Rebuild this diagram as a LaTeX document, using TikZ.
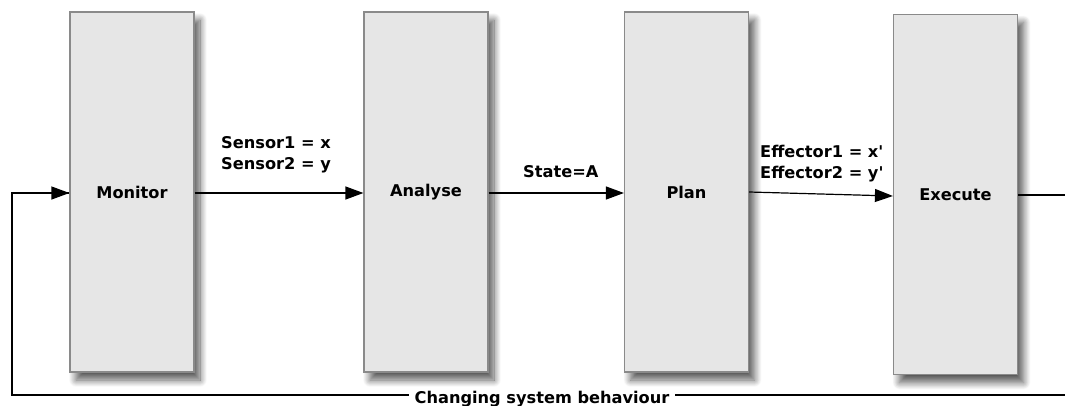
\documentclass[tikz,border=0pt]{standalone}
\usepackage{fontspec}
\setmainfont{DejaVu Sans}
\usetikzlibrary{arrows.meta,shadows.blur}
\definecolor{boxfill}{HTML}{E6E6E6}
\definecolor{boxline}{HTML}{8A8A8A}
\tikzset{
  stagebox/.style={draw=boxline, line width=1.2pt, fill=boxfill, minimum width=124pt, minimum height=360pt, inner sep=0pt,
    font=\fontsize{16.2}{18}\selectfont\bfseries,
    blur shadow={shadow xshift=6pt, shadow yshift=-8pt, shadow blur steps=12, shadow blur radius=7pt, shadow opacity=65}},
  flow/.style={line width=1.2pt, -{Triangle[length=18pt,width=13pt]}},
  loopline/.style={line width=2pt},
  lbl/.style={font=\fontsize{16.2}{21}\selectfont\bfseries, align=left, inner sep=0pt, anchor=base west},
}
\begin{document}
\begin{tikzpicture}[x=1pt,y=-1pt]
\useasboundingbox (0,0) rectangle (1065,405);
\clip (0,0) rectangle (1065,405);
\node[stagebox] (mon) at (132,192) {Monitor};
\node[stagebox] (ana) at (426,192) {Analyse};
\node[stagebox] (pla) at (686.5,192) {Plan};
\node[stagebox] (exe) at (955.5,194.5) {Execute};
\coordinate (ms) at (mon.east |- 0,193);
\coordinate (ae) at (ana.west |- 0,193);
\draw[flow] (ms) -- (ae);
\coordinate (as) at (ana.east |- 0,193);
\coordinate (pe) at (pla.west |- 0,193);
\draw[flow] (as) -- (pe);
\coordinate (ps) at (pla.east |- 0,192);
\coordinate (ee) at (exe.west |- 0,196);
\draw[flow] (ps) -- (ee);
\node[lbl] (s1) at (221,148) {Sensor1 = x};
\node[lbl] (s2) at (221,169) {Sensor2 = y};
\node[lbl] (st) at (523,177) {State=A};
\node[lbl] (e1) at (760,157) {Effector1 = x\textquotesingle};
\node[lbl] (e2) at (760,178) {Effector2 = y\textquotesingle};
\coordinate (xs) at (exe.east |- 0,195);
\coordinate (r1) at (1080,195);
\coordinate (r2) at (1080,395);
\coordinate (l1) at (12,395);
\coordinate (l2) at (12,193);
\coordinate (mw) at (mon.west |- 0,193);
\draw[loopline] (xs) -- (r1) -- (r2) -- (l1) -- (l2) -- (mw);
\draw[line width=1.2pt, -{Triangle[length=18pt,width=13pt]}] (l2) -- (mw);
\node[fill=white, inner xsep=6pt, inner ysep=1pt, anchor=base, font=\fontsize{16.2}{18}\selectfont\bfseries] (cap) at (542,403) {Changing system behaviour};
\end{tikzpicture}
\end{document}
